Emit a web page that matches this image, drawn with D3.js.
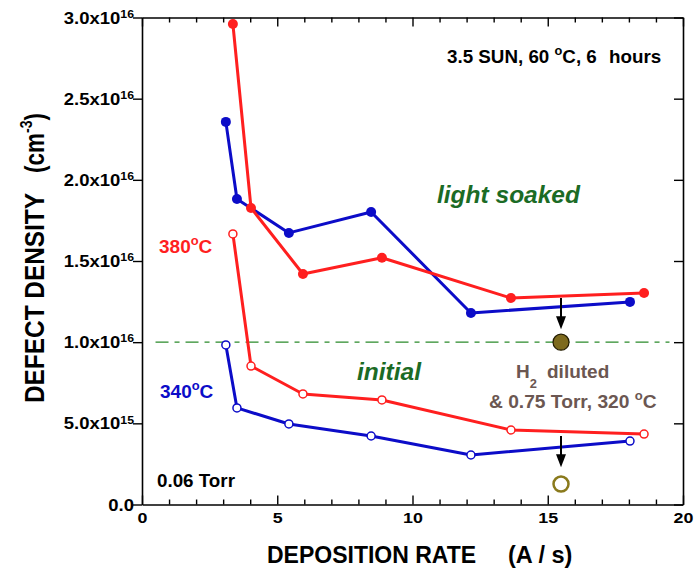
<!DOCTYPE html>
<html>
<head>
<meta charset="utf-8">
<script src="https://cdn.jsdelivr.net/npm/d3@7"></script>
<style>
  body { margin: 0; background: #fff; }
  svg text { font-family: "Liberation Sans", Arial, Helvetica, sans-serif; font-weight: bold; }
</style>
</head>
<body>
<svg id="chart" width="694" height="571"></svg>
<script>
// deposition rate (A/s) and defect density (units of 1e16 cm-3)
var rate380 = [3.36, 4.03, 5.95, 8.87, 13.64, 18.56];
var soaked380 = [2.96, 1.827, 1.42, 1.52, 1.272, 1.303];
var initial380 = [1.667, 0.853, 0.681, 0.644, 0.459, 0.434];

var rate340 = [3.1, 3.51, 5.43, 8.47, 12.16, 18.04];
var soaked340 = [2.357, 1.882, 1.673, 1.802, 1.18, 1.248];
var initial340 = [0.983, 0.595, 0.496, 0.422, 0.305, 0.391];

// H2 diluted sample
var h2Rate = [15.49];
var h2Soaked = [1.0];
var h2Initial = [0.126];

// arrows : [from, to] in 1e16
var arrows = [[1.272, 1.08], [0.422, 0.23]];

var refLevel = 1.0;
var xTicks = [0, 5, 10, 15, 20];
var yTicks = [0, 0.5, 1.0, 1.5, 2.0, 2.5, 3.0];
var yTickLabels = [["0.0", ""], ["5.0x10", "15"], ["1.0x10", "16"], ["1.5x10", "16"],
                   ["2.0x10", "16"], ["2.5x10", "16"], ["3.0x10", "16"]];

var RED = "#ff1f1f", BLUE = "#0c0cc8", GREEN = "#1b6b25", BROWN = "#6b5752";

var svg = d3.select("#chart");
var L = 142, R = 683, T = 17.5, B = 504.5;

var x = d3.scaleLinear().domain([0, 20]).range([L, R]);
var y = d3.scaleLinear().domain([0, 3]).range([B, T]);

function zip(xs, ys) { return xs.map(function(d, i) { return [d, ys[i]]; }); }

/* reference dash-dot line */
svg.append("line")
  .attr("x1", x(0.5)).attr("x2", x(19.5))
  .attr("y1", y(refLevel)).attr("y2", y(refLevel))
  .attr("stroke", "#2a8a2a").attr("stroke-width", 1.2)
  .attr("stroke-dasharray", "13,6,5,6");

/* axes */
var minor = d3.range(0, 21, 1);
function styleAxis(g) {
  g.select(".domain").attr("stroke-width", 1.6);
  g.selectAll(".tick line").attr("stroke-width", 1.4);
}
svg.append("g").attr("transform", "translate(0," + B + ")")
  .call(d3.axisBottom(x).tickValues(minor).tickSizeOuter(0).tickFormat(""))
  .call(styleAxis)
  .selectAll(".tick line").attr("y2", function(d) { return d % 5 == 0 ? -9 : -5; });
svg.append("g").attr("transform", "translate(0," + T + ")")
  .call(d3.axisTop(x).tickValues(minor).tickSizeOuter(0).tickFormat(""))
  .call(styleAxis)
  .selectAll(".tick line").attr("y2", function(d) { return d % 5 == 0 ? 9 : 5; });

var xl = svg.append("g").attr("transform", "translate(0," + B + ")")
  .call(d3.axisBottom(x).tickValues(xTicks).tickSize(0).tickFormat(d3.format("d")));
xl.select(".domain").remove();
xl.selectAll(".tick text")
  .attr("font-size", 15.5).attr("fill", "#000")
  .attr("y", 0).attr("dy", 0)
  .attr("transform", "translate(0,18.5) scale(1.15,1)");

var yl = svg.append("g").attr("transform", "translate(" + L + ",0)")
  .call(d3.axisLeft(y).tickValues(yTicks).tickSize(9).tickSizeOuter(0).tickFormat(""))
  .call(styleAxis);
yl.selectAll(".tick text").each(function(d, i) {
  var t = d3.select(this).attr("font-size", 15.8).attr("fill", "#000")
    .attr("x", 0).attr("dy", 0).attr("y", 5.6)
    .attr("transform", "translate(-8,0) scale(1.17,1)");
  var lab = yTickLabels[i];
  t.append("tspan").text(lab[0]);
  if (lab[1] != "")
    t.append("tspan").attr("font-size", 10.5).attr("dy", -5.8).text(lab[1]);
});
svg.append("g").attr("transform", "translate(" + R + ",0)")
  .call(d3.axisRight(y).tickValues(yTicks).tickSize(-9).tickSizeOuter(0).tickFormat(""))
  .call(styleAxis);

/* series */
var line = d3.line().x(function(d) { return x(d[0]); }).y(function(d) { return y(d[1]); });
var series = [
  { pts: zip(rate340, soaked340), color: BLUE, filled: true },
  { pts: zip(rate340, initial340), color: BLUE, filled: false },
  { pts: zip(rate380, soaked380), color: RED, filled: true },
  { pts: zip(rate380, initial380), color: RED, filled: false }
];
series.forEach(function(s) {
  svg.append("path").attr("d", line(s.pts))
    .attr("fill", "none").attr("stroke", s.color).attr("stroke-width", 3)
    .attr("stroke-linejoin", "round");
});
series.forEach(function(s) {
  svg.selectAll(null).data(s.pts).enter().append("circle")
    .attr("cx", function(d) { return x(d[0]); })
    .attr("cy", function(d) { return y(d[1]); })
    .attr("r", s.filled ? 5 : 4)
    .attr("fill", s.filled ? s.color : "#fff")
    .attr("stroke", s.color).attr("stroke-width", s.filled ? 0 : 1.5);
});

/* arrows */
arrows.forEach(function(a) {
  var ax = x(h2Rate[0]);
  svg.append("line").attr("x1", ax).attr("x2", ax)
    .attr("y1", y(a[0])).attr("y2", y(a[1]) - 10)
    .attr("stroke", "#000").attr("stroke-width", 2);
  svg.append("path")
    .attr("d", "M" + (ax - 5) + "," + (y(a[1]) - 13) + "L" + (ax + 5) + "," + (y(a[1]) - 13) + "L" + ax + "," + y(a[1]) + "Z")
    .attr("fill", "#000");
});

/* H2 diluted points */
svg.selectAll(null).data(zip(h2Rate, h2Soaked)).enter().append("circle")
  .attr("cx", function(d) { return x(d[0]); }).attr("cy", function(d) { return y(d[1]); })
  .attr("r", 8).attr("fill", "#7d6a1e").attr("stroke", "#231c00").attr("stroke-width", 1.2);
svg.selectAll(null).data(zip(h2Rate, h2Initial)).enter().append("circle")
  .attr("cx", function(d) { return x(d[0]); }).attr("cy", function(d) { return y(d[1]); })
  .attr("r", 7.5).attr("fill", "#fff").attr("stroke", "#8a7a1c").attr("stroke-width", 2.5);

/* annotations : parts are text pieces, optionally superscript/subscript or placed at x */
function label(tx, ty, parts, size, color, italic) {
  var t = svg.append("text").attr("x", tx).attr("y", ty)
    .attr("font-size", size).attr("fill", color);
  if (italic) t.attr("font-style", "italic");
  parts.forEach(function(p) {
    var ts = t.append("tspan").text(p.t);
    if (p.x != null) ts.attr("x", p.x);
    if (p.sup) ts.attr("font-size", size * 0.68).attr("dy", -size * 0.42);
    if (p.sub) ts.attr("font-size", size * 0.68).attr("dy", size * 0.5);
    if (p.back) ts.attr("dy", p.back);
  });
  return t;
}

label(447, 63, [{ t: "3.5 SUN, 60 " }, { t: "o", sup: true }, { t: "C, 6", back: 18.8 * 0.42 }, { t: "hours", x: 609 }], 18.8, "#000");
label(437, 203, [{ t: "light soaked" }], 24.5, GREEN, true);
label(357, 380, [{ t: "initial" }], 24.5, GREEN, true);
label(159, 253, [{ t: "380" }, { t: "o", sup: true }, { t: "C", back: 19 * 0.42 }], 19, RED);
label(160, 398, [{ t: "340" }, { t: "o", sup: true }, { t: "C", back: 19 * 0.42 }], 19, BLUE);
label(157, 487, [{ t: "0.06 Torr" }], 18.8, "#000");
label(516, 378, [{ t: "H" }, { t: "2", sub: true }, { t: "diluted", x: 547, back: -19 * 0.5 }], 19, BROWN);
label(489, 408, [{ t: "& 0.75 Torr, 320 " }, { t: "o", sup: true }, { t: "C", back: 19 * 0.42 }], 19.2, BROWN);

/* axis titles */
var xt = svg.append("text").attr("x", 267).attr("y", 563)
  .attr("font-size", 23).attr("fill", "#000");
xt.append("tspan").text("DEPOSITION RATE");
xt.append("tspan").attr("x", 508).attr("font-size", 23.5).text("(A / s)");

// tall, narrow glyphs on the y title: big font squeezed to the measured length
svg.append("text").attr("transform", "translate(44,403) rotate(-90)")
  .attr("font-size", 27).attr("fill", "#000")
  .attr("textLength", 210).attr("lengthAdjust", "spacingAndGlyphs")
  .text("DEFECT DENSITY");

var yt = svg.append("text").attr("transform", "translate(44,173) rotate(-90)")
  .attr("font-size", 27).attr("fill", "#000")
  .attr("textLength", 60).attr("lengthAdjust", "spacingAndGlyphs");
yt.append("tspan").text("(cm");
yt.append("tspan").attr("font-size", 17).attr("dy", -12).text("-3");
yt.append("tspan").attr("dy", 12).text(")");
</script>
</body>
</html>
